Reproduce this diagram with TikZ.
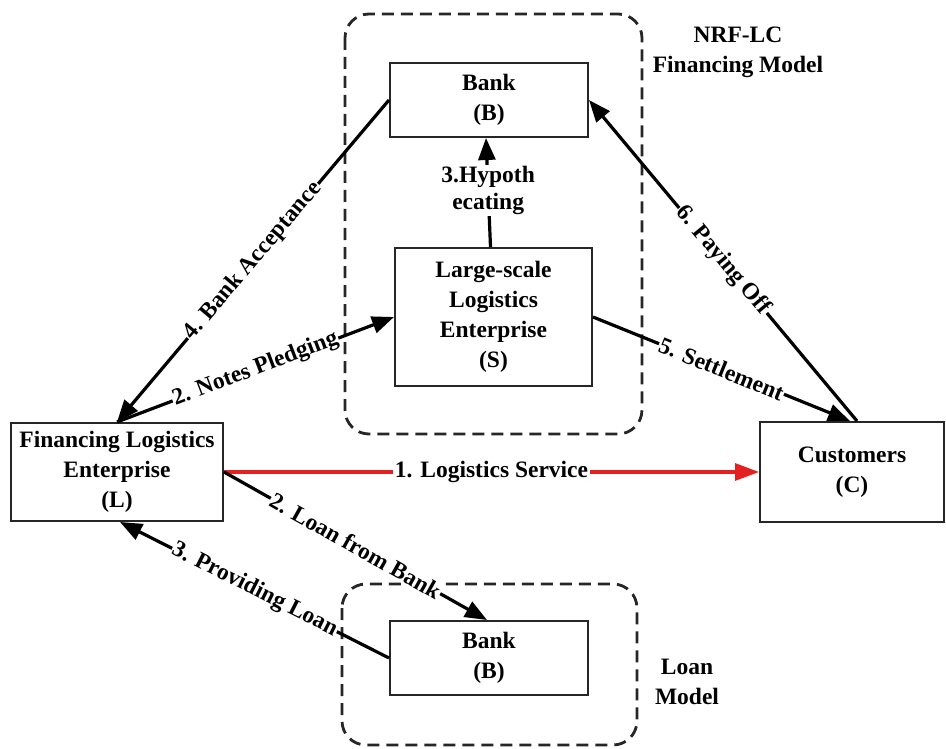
\documentclass[tikz,border=0pt]{standalone}
\usepackage{fontspec}
\setmainfont{Liberation Serif}
\usetikzlibrary{arrows.meta}
\definecolor{lsred}{RGB}{228,32,32}
\begin{document}
\begin{tikzpicture}[x=1pt,y=-1pt,
  every node/.style={font=\bfseries\fontsize{23.5}{30}\selectfont, text=black},
  box/.style={draw=black!85, line width=2pt, align=center, inner sep=0pt},
  group/.style={draw=black!85, line width=2.8pt, dash pattern=on 12pt off 7pt, rounded corners=24pt},
  conn/.style={draw=black, line width=3.2pt, -{Triangle[length=22pt,width=17pt]}},
  lbl/.style={sloped, fill=white, inner sep=1pt, pos=0.5}
]
\useasboundingbox (0,0) rectangle (946,749);
% groups
\draw[group] (345,14) rectangle (642,434);
\draw[group] (342,584) rectangle (637,745);
% nodes
\node[box, minimum width=198pt, minimum height=74pt] (bankT) at (489,100) {Bank\\(B)};
\node[box, minimum width=197pt, minimum height=138pt] (S) at (493.5,317) {Large-scale\\Logistics\\Enterprise\\(S)};
\node[box, minimum width=212pt, minimum height=98pt] (L) at (117,472) {Financing Logistics\\Enterprise\\(L)};
\node[box, minimum width=184pt, minimum height=100pt] (C) at (852,472) {Customers\\(C)};
\node[box, minimum width=198pt, minimum height=74pt] (bankB) at (489,658) {Bank\\(B)};
\node[align=center] (nrf) at (738,52) {NRF-LC\\Financing Model};
\node[align=center] (loan) at (687,682) {Loan\\Model};
% connectors
\draw[conn] (bankT.west) -- node[lbl] {4. Bank Acceptance} (L.north);
\draw[conn] (L.north) -- node[lbl] {2. Notes Pledging} (S.west);
\draw[conn] ([xshift=-3pt]S.north) -- node[fill=white, inner sep=1pt, align=center, font=\bfseries\fontsize{23.5}{27}\selectfont, pos=0.52] {3.Hypoth\\ecating} ([xshift=-3pt]bankT.south);
\draw[conn] ([xshift=5pt]C.north) -- node[lbl] {6. Paying Off} (bankT.east);
\draw[conn] (S.east) -- node[lbl] {5. Settlement} ([xshift=-2pt]C.north);
\draw[conn, draw=lsred, -{Triangle[length=24pt,width=17pt]}, lsred] (L.east) -- node[fill=white, inner sep=2pt] {1. Logistics Service} (C.west);
\draw[conn] (L.east) -- node[lbl] {2. Loan from Bank} ([xshift=-2pt]bankB.north);
\draw[conn] (bankB.west) -- node[lbl] {3. Providing Loan} ([xshift=3pt]L.south);
\end{tikzpicture}
\end{document}
